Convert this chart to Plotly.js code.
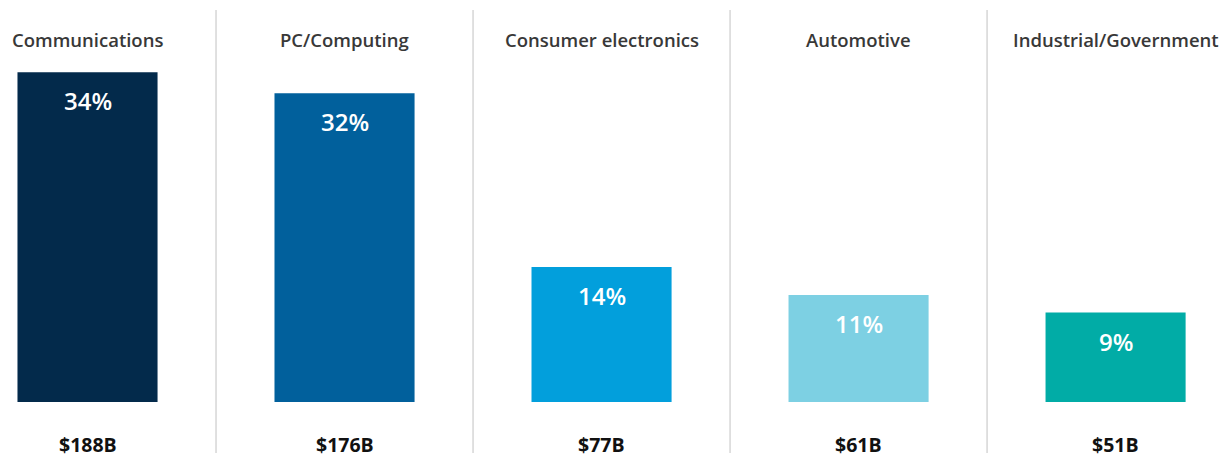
<!DOCTYPE html>
<html><head><meta charset="utf-8">
<script src="https://cdn.plot.ly/plotly-3.0.1.min.js"></script>
<style>html,body{margin:0;padding:0;background:#fff}#chart{width:1232px;height:459px}</style>
</head><body><div id="chart"></div>
<script>
const categories = ["Communications","PC/Computing","Consumer electronics","Automotive","Industrial/Government"];
const revenueB = [188,176,77,61,51];
const shareLabels = ["34%","32%","14%","11%","9%"];
const valueLabels = ["$188B","$176B","$77B","$61B","$51B"];
const colors = ["#032a4b","#01609c","#029fdc","#7dd0e3","#01aca6"];

const xs = categories.map((c,i)=>i);
const trace = {type:"bar", x: xs, y: revenueB, width: 0.545,
  marker:{color: colors, line:{width:0}}, hoverinfo:"skip"};

const annotations = [];
const shapes = [];
categories.forEach((c,i)=>{
  annotations.push({x:i, y:0.938, xref:"x", yref:"paper", text:c, showarrow:false,
    font:{family:"Open Sans, sans-serif", size:18.5, weight:600, color:"#383838"}, xanchor:"center", yanchor:"middle"});
  annotations.push({x:i, y:revenueB[i], xref:"x", yref:"y", text:shareLabels[i], showarrow:false,
    font:{family:"Open Sans, sans-serif", size:24, weight:600, color:"#ffffff"}, xanchor:"center", yanchor:"top", yshift:-10});
  annotations.push({x:i, y:-0.111, xref:"x", yref:"paper", text:valueLabels[i], showarrow:false,
    font:{family:"Open Sans, sans-serif", size:19.5, weight:700, color:"#111111"}, xanchor:"center", yanchor:"middle"});
  if (i>0) shapes.push({type:"line", xref:"x", yref:"paper", x0:i-0.5, x1:i-0.5, y0:-0.132, y1:1.0155,
    line:{color:"#cccccc", width:1.2}});
});

const layout = {width:1232, height:459, margin:{l:0,r:0,t:16,b:57},
  paper_bgcolor:"#fff", plot_bgcolor:"#fff", showlegend:false,
  xaxis:{range:[-0.3405,4.453], visible:false, fixedrange:true},
  yaxis:{range:[0,220], visible:false, fixedrange:true},
  annotations, shapes};
Plotly.newPlot("chart",[trace],layout,{staticPlot:true,displayModeBar:false});
</script></body></html>
